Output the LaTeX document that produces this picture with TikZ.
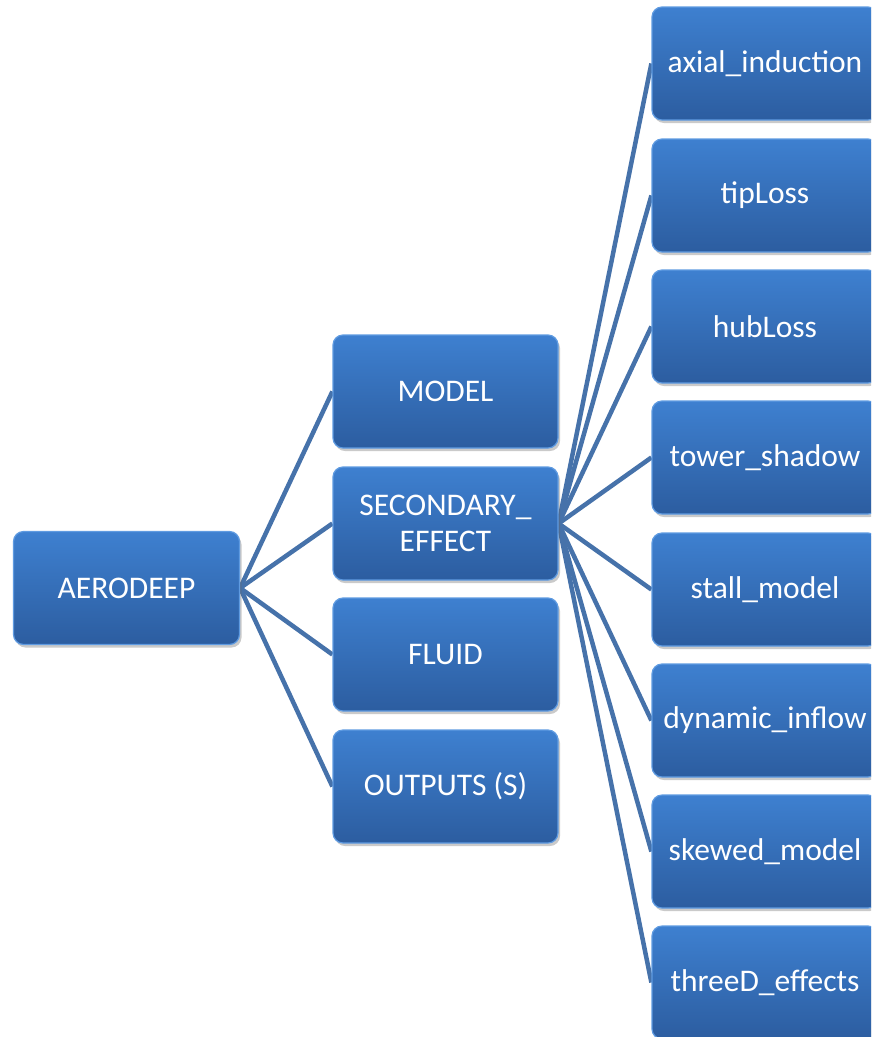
\documentclass[tikz,border=0pt]{standalone}
\usepackage{fontspec}
\setmainfont{Carlito}
\usetikzlibrary{shadows,backgrounds}
\definecolor{boxtop}{RGB}{62,128,208}
\definecolor{boxbot}{RGB}{44,93,160}
\definecolor{boxedge}{RGB}{95,155,225}
\definecolor{linkc}{RGB}{70,114,170}
\tikzset{
  bluebox/.style={rectangle, rounded corners=10pt, minimum width=226pt, minimum height=113pt,
    top color=boxtop, bottom color=boxbot, draw=boxedge, line width=1.2pt,
    text=white, align=center, inner sep=2pt,
    font=\fontsize{31.5}{36}\selectfont,
    drop shadow={opacity=0.35, shadow xshift=2pt, shadow yshift=-3pt, fill=black!60}},
  link/.style={draw=linkc, line width=4.5pt}
}
\begin{document}
\begin{tikzpicture}[x=1pt,y=-1pt]
\useasboundingbox (0,0) rectangle (871,1037);
\clip (0,0) rectangle (871,1037);
\node[bluebox] (root) at (126.5,588) {AERODEEP};
\node[bluebox, minimum width=225pt] (model) at (445.5,391.5) {MODEL};
\node[bluebox, minimum width=225pt] (sec) at (445.5,523.5) {SECONDARY\_\\EFFECT};
\node[bluebox, minimum width=225pt] (fluid) at (445.5,654.5) {FLUID};
\node[bluebox, minimum width=225pt] (out) at (445.5,786.5) {OUTPUTS (S)};
\node[bluebox] (ax) at (765,63.5) {axial\_induction};
\node[bluebox] (tip) at (765,195.5) {tipLoss};
\node[bluebox] (hub) at (765,326.5) {hubLoss};
\node[bluebox] (tow) at (765,457.5) {tower\_shadow};
\node[bluebox] (stall) at (765,589.5) {stall\_model};
\node[bluebox] (dyn) at (765,720.5) {dynamic\_inflow};
\node[bluebox] (skew) at (765,851.5) {skewed\_model};
\node[bluebox] (three) at (765,982.5) {threeD\_effects};
\begin{scope}[on background layer]
\foreach \m in {model,sec,fluid,out} \draw[link] (root.east) -- (\m.west);
\foreach \m in {ax,tip,hub,tow,stall,dyn,skew,three} \draw[link] (sec.east) -- (\m.west);
\end{scope}
\end{tikzpicture}
\end{document}
